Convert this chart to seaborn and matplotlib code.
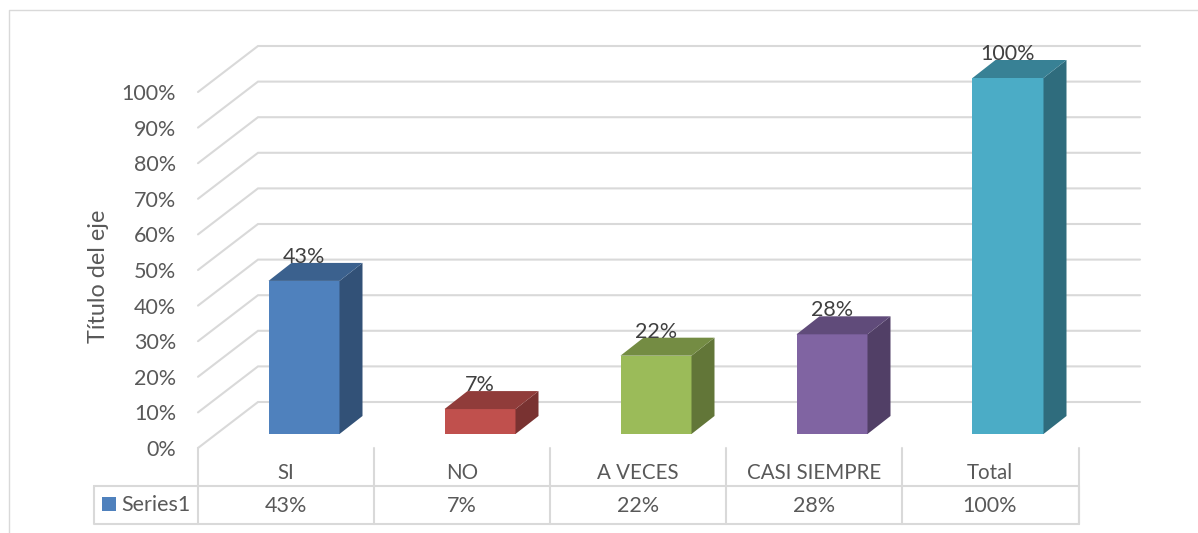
import matplotlib
matplotlib.use("Agg")
import matplotlib.pyplot as plt
from matplotlib.lines import Line2D
from matplotlib.patches import Polygon, Rectangle
from matplotlib.transforms import ScaledTranslation
from matplotlib.colors import to_rgb
import pandas as pd
import seaborn as sns

categories = ["SI", "NO", "A VECES", "CASI SIEMPRE", "Total"]
values = [43, 7, 22, 28, 100]
value_labels = ["43%", "7%", "22%", "28%", "100%"]
colors = ["#4F81BD", "#C0504D", "#9BBB59", "#8064A2", "#4BACC6"]
y_ticks = [0, 10, 20, 30, 40, 50, 60, 70, 80, 90, 100]
y_tick_labels = ["0%", "10%", "20%", "30%", "40%", "50%", "60%", "70%", "80%", "90%", "100%"]
series_name = "Series1"
y_title = "Título del eje"

W, H = 1198, 533
GRID = "#D9D9D9"
TEXT = "#595959"

sns.set_theme(style="white")
plt.rcParams["font.family"] = ["Lato", "DejaVu Sans"]

fig = plt.figure(figsize=(W / 100, H / 100), dpi=100, facecolor="white")
# front plane of the bars
ax = fig.add_axes([216 / W, 1 - 434 / H, 880 / W, 356 / H])

df = pd.DataFrame({"cat": categories, "val": values})
sns.barplot(data=df, x="cat", y="val", hue="cat", palette=colors, saturation=1,
            width=71 / 176, legend=False, ax=ax, zorder=3, linewidth=0)
ax.set_xlim(-0.5, 4.5)
ax.set_ylim(0, 100)
ax.set_xlabel("")
ax.set_ylabel("")
sns.despine(ax=ax, left=True, bottom=True)

# pixels to data units
px_x = 5 / 880
px_y = 100 / 356


def shade(c, f):
    return tuple(v * f for v in to_rgb(c))


# back wall and left wall lines
x_front, x_wall, x_end = -0.5 - 18 * px_x, -0.5 + 42 * px_x, -0.5 + 924 * px_x
for t in y_ticks:
    y_f, y_b = t - 14 * px_y, t + 32 * px_y
    ax.plot([x_front, x_wall, x_end], [y_f, y_b, y_b], color=GRID, lw=1.5,
            clip_on=False, zorder=1, solid_joinstyle="miter")

# depth of the boxes
dx, dy = 23 * px_x, 18 * px_y
for bar, c in zip(ax.patches, colors):
    x0, x1 = bar.get_x(), bar.get_x() + bar.get_width()
    top = bar.get_height()
    ax.add_patch(Polygon([(x1, 0), (x1 + dx, dy), (x1 + dx, top + dy), (x1, top)],
                         facecolor=shade(c, 0.63), edgecolor="none", clip_on=False, zorder=3))
    ax.add_patch(Polygon([(x0, top), (x0 + dx, top + dy), (x1 + dx, top + dy), (x1, top)],
                         facecolor=shade(c, 0.75), edgecolor="none", clip_on=False, zorder=3))

# tick labels sit on the front edge of the floor
ax.set_yticks(y_ticks, y_tick_labels)
ax.tick_params(axis="y", length=0, pad=40 * 0.72, labelsize=15.5, labelcolor=TEXT)
shift = ScaledTranslation(0, -14 / 100, fig.dpi_scale_trans)
for lab in ax.get_yticklabels():
    lab.set_transform(lab.get_transform() + shift)

ax.tick_params(axis="x", length=0, pad=29 * 0.72, labelsize=14.8, labelcolor=TEXT)
shift = ScaledTranslation(-18 / 100, 0, fig.dpi_scale_trans)
for lab in ax.get_xticklabels():
    lab.set_transform(lab.get_transform() + shift)

# data labels and the values row of the table
for i, (v, lab) in enumerate(zip(values, value_labels)):
    ax.annotate(lab, xy=(i, v), xytext=(0, 24), textcoords="offset pixels", ha="center",
                va="center", fontsize=15.5, color="#404040", zorder=5, annotation_clip=False)
    ax.annotate(lab, xy=(i, 0), xytext=(-18, -72), textcoords="offset pixels", ha="center",
                va="center", fontsize=15.5, color=TEXT, annotation_clip=False)

fig.text(98 / W, 1 - 276 / H, y_title, rotation=90, ha="center", va="center",
         fontsize=16.8, color=TEXT)


def fig_line(xs, ys, lw=1.5):
    fig.add_artist(Line2D([x / W for x in xs], [1 - y / H for y in ys], color=GRID, lw=lw))


# outer frame
fig_line([9, 9, W], [H, 10, 10], lw=1.0)

# data table
fig_line([94, 1079, 1079, 94, 94], [486, 486, 524, 524, 486])
for x in [198, 374, 550, 726, 902, 1079]:
    fig_line([x, x], [448, 524])

fig.add_artist(Rectangle((102 / W, 1 - 511 / H), 14 / W, 14 / H, facecolor=colors[0],
                         edgecolor="none", transform=fig.transFigure))
fig.text(121 / W, 1 - 505 / H, series_name, ha="left", va="center", fontsize=15.5, color=TEXT)

fig.savefig("out.png", dpi=100)
